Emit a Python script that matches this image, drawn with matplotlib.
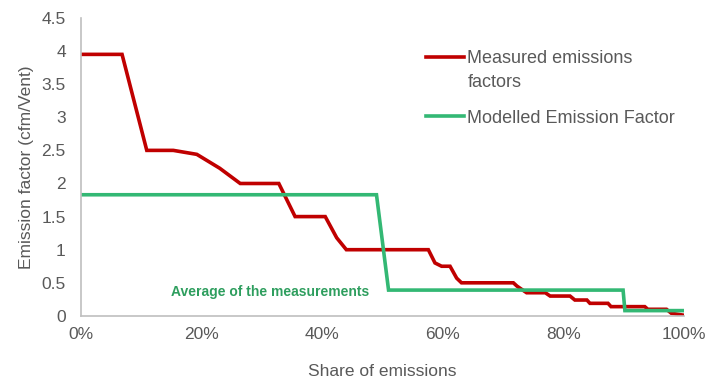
import numpy as np
import matplotlib
matplotlib.use("Agg")
import matplotlib.pyplot as plt
from matplotlib.ticker import PercentFormatter

plt.rcParams['font.family'] = ['Liberation Sans', 'DejaVu Sans']

# measured emission factors (share of emissions %, cfm/vent)
meas_x = [0, 6.8, 10.9, 15.3, 19.2, 23.0, 26.4, 32.8, 35.5, 40.5, 42.4, 44.0,
          57.6, 58.7, 59.8, 61.2, 62.3, 63.1, 71.7, 72.3, 73.9, 77.0, 77.8,
          81.1, 81.9, 83.9, 84.4, 87.4, 87.9, 93.5, 94.0, 97.1, 97.9, 100]
meas_y = [3.95, 3.95, 2.5, 2.5, 2.44, 2.23, 2.0, 2.0, 1.5, 1.5, 1.18, 1.0,
          1.0, 0.8, 0.75, 0.75, 0.57, 0.5, 0.5, 0.45, 0.35, 0.35, 0.3,
          0.3, 0.24, 0.24, 0.19, 0.19, 0.14, 0.14, 0.1, 0.1, 0.04, 0.01]

# modelled emission factor
model_x = [0, 49.0, 51.0, 89.9, 90.2, 100]
model_y = [1.83, 1.83, 0.39, 0.39, 0.08, 0.08]

red = '#c00000'
green = '#33b874'
grey = '#595959'

fig = plt.figure(figsize=(7.11, 3.82), dpi=100)
ax = fig.add_axes([0.114, 0.173, 0.848, 0.78])

ax.plot(meas_x, meas_y, color=red, lw=2.6, label='Measured emissions\nfactors', solid_joinstyle='miter')
ax.plot(model_x, model_y, color=green, lw=2.6, label='Modelled Emission Factor', solid_joinstyle='miter')

ax.text(47.8, 0.36, 'Average of the measurements', color='#2e9e5e', fontsize=10,
        fontweight='bold', ha='right', va='center')

ax.set_xlim(0, 100)
ax.set_ylim(0, 4.5)
ax.set_xticks(np.arange(0, 101, 20))
ax.xaxis.set_major_formatter(PercentFormatter(decimals=0))
yt = np.arange(0, 4.51, 0.5)
ax.set_yticks(yt)
ax.set_yticklabels(['%g' % v for v in yt])

for s in ['top', 'right']:
    ax.spines[s].set_visible(False)
for s in ['left', 'bottom']:
    ax.spines[s].set_color('#bfbfbf')
    ax.spines[s].set_linewidth(1.2)
ax.tick_params(length=0, colors=grey, labelsize=12.5)
ax.tick_params(axis='y', pad=11)
ax.tick_params(axis='x', pad=8)

ax.set_xlabel('Share of emissions', color=grey, fontsize=12.5, labelpad=16)
ax.set_ylabel('Emission factor (cfm/Vent)', color=grey, fontsize=12.5, labelpad=5)

leg = ax.legend(loc='upper left', bbox_to_anchor=(0.545, 0.948), frameon=False,
                fontsize=13, handlelength=2.1, handletextpad=0.2, labelspacing=1.05)
for t in leg.get_texts():
    t.set_color(grey)
    t.set_linespacing(1.55)
# put the first handle next to the first line of its two-line label
h = leg.get_lines()[0]
yd = np.asarray(h.get_ydata(), dtype=float)
h.set_ydata(yd + 10)

fig.savefig('out.png', dpi=100)
